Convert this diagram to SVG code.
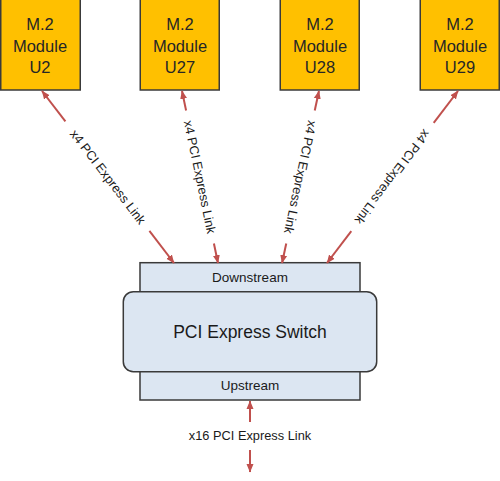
<svg xmlns="http://www.w3.org/2000/svg" width="500" height="481" viewBox="0 0 500 481">
<style>
.mod{fill:#FFC000;stroke:#3a3a3a;stroke-width:1.5}
.mt{font-family:"Liberation Sans",Arial,sans-serif;font-size:16.5px;fill:#262626;text-anchor:middle}
.sw{fill:#DCE6F2;stroke:#3a3a3a;stroke-width:1.5}
.st{font-family:"Liberation Sans",Arial,sans-serif;fill:#1a1a1a;text-anchor:middle}
.ln{stroke:#C0504D;stroke-width:2;fill:none}
.lb{font-family:"Liberation Sans",Arial,sans-serif;font-size:12.8px;fill:#1a1a1a;text-anchor:middle;dominant-baseline:central}
</style>
<defs>
<marker id="ah" markerUnits="userSpaceOnUse" markerWidth="9" markerHeight="8" refX="8" refY="4" orient="auto-start-reverse" viewBox="0 0 9 8">
<path d="M0,0.5 L8.5,4 L0,7.5 z" fill="#C0504D"/>
</marker>
</defs>
<rect width="500" height="481" fill="#ffffff"/>
<g id="U2"><rect class="mod" x="0.75" y="-1" width="79.5" height="91"/><text class="mt" x="40" y="30">M.2</text><text class="mt" x="40" y="51.5">Module</text><text class="mt" x="40" y="73">U2</text></g>
<g id="U27"><rect class="mod" x="140.25" y="-1" width="79" height="91"/><text class="mt" x="180" y="30">M.2</text><text class="mt" x="180" y="51.5">Module</text><text class="mt" x="180" y="73">U27</text></g>
<g id="U28"><rect class="mod" x="280.25" y="-1" width="79" height="91"/><text class="mt" x="320" y="30">M.2</text><text class="mt" x="320" y="51.5">Module</text><text class="mt" x="320" y="73">U28</text></g>
<g id="U29"><rect class="mod" x="420.25" y="-1" width="79" height="91"/><text class="mt" x="460" y="30">M.2</text><text class="mt" x="460" y="51.5">Module</text><text class="mt" x="460" y="73">U29</text></g>
<g id="switch">
<rect class="sw" x="140" y="262.7" width="220" height="137.3"/>
<rect class="sw" x="123.3" y="291.7" width="253.4" height="80" rx="10"/>
<text class="st" x="250" y="282" font-size="13.5">Downstream</text>
<text class="st" x="250" y="338" font-size="17.5">PCI Express Switch</text>
<text class="st" x="250" y="390" font-size="13.5">Upstream</text>
</g>
<g id="connectors">
<g transform="translate(108,177) rotate(52.5)"><line class="ln" x1="-108.4" y1="0" x2="-70" y2="0" marker-start="url(#ah)"/><line class="ln" x1="68" y1="0" x2="108.4" y2="0" marker-end="url(#ah)"/><text class="lb" x="0" y="0">x4 PCI Express Link</text></g>
<g transform="translate(200,177) rotate(78.2)"><line class="ln" x1="-87.9" y1="0" x2="-68" y2="0" marker-start="url(#ah)"/><line class="ln" x1="68" y1="0" x2="87.9" y2="0" marker-end="url(#ah)"/><text class="lb" x="0" y="0">x4 PCI Express Link</text></g>
<g transform="translate(300.5,177) rotate(102.1)"><line class="ln" x1="-88" y1="0" x2="-68" y2="0" marker-start="url(#ah)"/><line class="ln" x1="68" y1="0" x2="88" y2="0" marker-end="url(#ah)"/><text class="lb" x="0" y="0">x4 PCI Express Link</text></g>
<g transform="translate(392.5,177) rotate(127.3)"><line class="ln" x1="-108.1" y1="0" x2="-68" y2="0" marker-start="url(#ah)"/><line class="ln" x1="68" y1="0" x2="108.1" y2="0" marker-end="url(#ah)"/><text class="lb" x="0" y="0">x4 PCI Express Link</text></g>
<line class="ln" x1="250" y1="422" x2="250" y2="401" marker-end="url(#ah)"/>
<line class="ln" x1="250" y1="450" x2="250" y2="472" marker-end="url(#ah)"/>
<text class="lb" x="250" y="436" style="dominant-baseline:auto" dy="4">x16 PCI Express Link</text>
</g>
</svg>
